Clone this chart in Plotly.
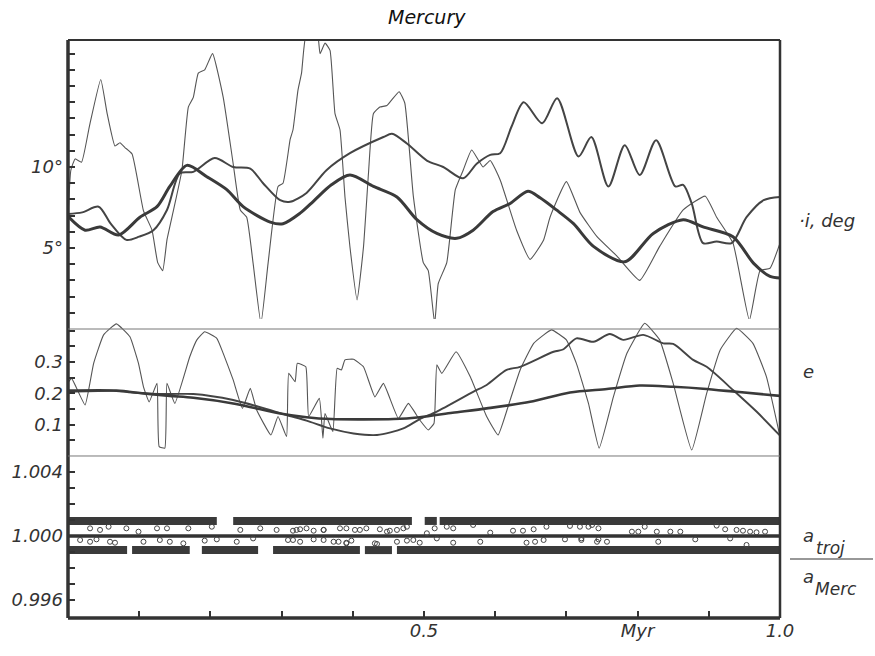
import plotly.graph_objects as go

# ---------------- time axis (Myr) ----------------
x_tickvals = [0.1, 0.2, 0.3, 0.4, 0.5, 0.6, 0.7, 0.8, 0.9, 1.0]
x_ticktext = ["", "", "", "", "0.5", "", "", "Myr", "", "1.0"]

# ---------------- inclination, deg ----------------
inc_thin_t = [0.000, 0.004, 0.010, 0.019, 0.030, 0.046, 0.055, 0.066, 0.073, 0.080, 0.090, 0.106,
              0.118, 0.126, 0.133, 0.139, 0.148, 0.160, 0.169, 0.176, 0.183, 0.192, 0.203, 0.218,
              0.232, 0.242, 0.251, 0.260, 0.271, 0.281, 0.295, 0.302, 0.312, 0.316, 0.323, 0.328,
              0.335, 0.350, 0.354, 0.361, 0.368, 0.375, 0.382, 0.389, 0.396, 0.406, 0.415, 0.422,
              0.429, 0.438, 0.448, 0.465, 0.473, 0.485, 0.499, 0.506, 0.515, 0.520, 0.532, 0.544,
              0.555, 0.567, 0.583, 0.593, 0.607, 0.630, 0.649, 0.668, 0.677, 0.700, 0.719, 0.743,
              0.771, 0.803, 0.831, 0.864, 0.895, 0.911, 0.934, 0.957, 0.972, 0.986, 1.000]
inc_thin = [6.9, 9.8, 10.5, 10.3, 12.5, 15.4, 13.3, 11.3, 11.5, 11.2, 10.8, 7.3,
            6.1, 4.1, 3.6, 5.5, 7.3, 9.8, 13.7, 14.3, 15.8, 16.0, 17.0, 14.3,
            10.2, 7.35, 6.9, 4.05, 0.35, 4.05, 8.8, 9.0, 11.7, 12.3, 14.75, 15.8,
            18.3, 18.3, 17.0, 17.65, 17.2, 13.3, 12.3, 8.15, 5.06, 1.8, 5.06, 9.6,
            13.3, 13.7, 13.8, 14.65, 13.95, 8.2, 4.1, 3.6, 0.35, 2.8, 4.1, 8.6,
            9.8, 11.05, 10.0, 10.4, 9.2, 6.1, 4.3, 5.5, 6.9, 9.1, 7.2, 5.7,
            4.5, 3.0, 5.1, 7.35, 8.2, 6.9, 5.3, 0.55, 3.6, 3.75, 5.3]

inc_med_t = [0.000, 0.020, 0.043, 0.060, 0.082, 0.100, 0.120, 0.139, 0.157, 0.176, 0.206, 0.232,
             0.256, 0.274, 0.298, 0.312, 0.335, 0.363, 0.396, 0.443, 0.455, 0.476, 0.504, 0.527,
             0.555, 0.574, 0.593, 0.607, 0.623, 0.640, 0.666, 0.687, 0.717, 0.735, 0.759, 0.782,
             0.803, 0.826, 0.853, 0.864, 0.876, 0.892, 0.911, 0.932, 0.953, 0.977, 1.000]
inc_med = [7.1, 7.2, 7.55, 6.5, 5.5, 5.7, 6.1, 7.35, 9.6, 9.7, 10.55, 10.0,
           9.9, 9.0, 7.95, 7.85, 8.4, 9.8, 10.85, 11.85, 12.05, 11.45, 10.4, 10.0,
           9.3, 10.2, 10.75, 10.85, 12.5, 14.0, 12.7, 14.25, 10.65, 11.85, 8.8, 11.35,
           9.5, 11.65, 8.8, 8.9, 7.75, 5.3, 5.4, 5.3, 6.9, 7.95, 8.15]

inc_thick_t = [0.000, 0.024, 0.045, 0.071, 0.101, 0.125, 0.143, 0.167, 0.195, 0.223, 0.246, 0.284,
               0.302, 0.326, 0.345, 0.370, 0.396, 0.429, 0.462, 0.490, 0.518, 0.546, 0.569, 0.597,
               0.621, 0.646, 0.663, 0.686, 0.710, 0.738, 0.782, 0.822, 0.864, 0.892, 0.934, 0.963,
               0.986, 1.000]
inc_thick = [6.95, 6.1, 6.3, 5.8, 6.9, 7.55, 8.8, 10.1, 9.4, 8.6, 7.55, 6.6,
             6.5, 7.15, 7.9, 8.9, 9.5, 8.8, 8.15, 6.75, 5.9, 5.6, 6.1, 7.25,
             7.75, 8.5, 8.1, 7.35, 6.5, 5.1, 4.15, 5.9, 6.75, 6.3, 5.7, 4.05,
             3.25, 3.15]
inc_tickvals = list(range(1, 18))
inc_ticktext = ["5°" if v == 5 else ("10°" if v == 10 else "") for v in inc_tickvals]

# ---------------- eccentricity ----------------
ecc_thin_t = [0.000, 0.005, 0.024, 0.036, 0.050, 0.068, 0.087, 0.099, 0.106, 0.114, 0.125, 0.128,
              0.136, 0.139, 0.150, 0.171, 0.181, 0.192, 0.209, 0.218, 0.232, 0.245, 0.256, 0.265,
              0.285, 0.295, 0.307, 0.310, 0.319, 0.322, 0.334, 0.338, 0.353, 0.358, 0.361, 0.372,
              0.378, 0.384, 0.389, 0.401, 0.415, 0.431, 0.443, 0.464, 0.478, 0.494, 0.506, 0.514,
              0.518, 0.525, 0.545, 0.565, 0.588, 0.604, 0.621, 0.635, 0.654, 0.679, 0.700, 0.714,
              0.731, 0.746, 0.766, 0.785, 0.810, 0.831, 0.850, 0.876, 0.897, 0.916, 0.939, 0.962,
              0.981, 1.000]
ecc_thin = [0.235, 0.248, 0.163, 0.296, 0.387, 0.422, 0.381, 0.296, 0.221, 0.173, 0.232, 0.030,
            0.025, 0.232, 0.168, 0.317, 0.371, 0.397, 0.376, 0.328, 0.243, 0.152, 0.216, 0.147,
            0.067, 0.126, 0.062, 0.264, 0.237, 0.296, 0.285, 0.126, 0.184, 0.057, 0.136, 0.078,
            0.280, 0.275, 0.307, 0.309, 0.285, 0.189, 0.232, 0.120, 0.168, 0.115, 0.083, 0.104,
            0.291, 0.264, 0.333, 0.253, 0.126, 0.067, 0.179, 0.275, 0.360, 0.403, 0.371, 0.296,
            0.168, 0.025, 0.189, 0.328, 0.424, 0.371, 0.232, 0.019, 0.200, 0.339, 0.408, 0.360,
            0.253, 0.062]

ecc_med_t = [0.000, 0.068, 0.106, 0.143, 0.176, 0.232, 0.270, 0.307, 0.335, 0.368, 0.401, 0.434,
             0.471, 0.494, 0.518, 0.569, 0.588, 0.616, 0.635, 0.682, 0.696, 0.714, 0.738, 0.761,
             0.780, 0.808, 0.836, 0.850, 0.878, 0.897, 0.934, 0.967, 1.000]
ecc_med = [0.205, 0.208, 0.200, 0.198, 0.198, 0.179, 0.156, 0.131, 0.113, 0.088, 0.072, 0.067,
           0.088, 0.118, 0.142, 0.205, 0.227, 0.275, 0.285, 0.333, 0.341, 0.376, 0.365, 0.390,
           0.371, 0.387, 0.360, 0.358, 0.307, 0.285, 0.211, 0.142, 0.065]

ecc_thick_t = [0.000, 0.068, 0.106, 0.143, 0.176, 0.232, 0.265, 0.298, 0.335, 0.370, 0.410, 0.457,
               0.494, 0.540, 0.588, 0.649, 0.705, 0.757, 0.803, 0.850, 0.892, 0.939, 1.000]
ecc_thick = [0.209, 0.209, 0.200, 0.192, 0.186, 0.168, 0.152, 0.136, 0.124, 0.118, 0.117, 0.118,
             0.124, 0.138, 0.152, 0.173, 0.203, 0.214, 0.225, 0.221, 0.215, 0.205, 0.192]
ecc_tickvals = [0.05, 0.10, 0.15, 0.20, 0.25, 0.30, 0.35, 0.40]
ecc_ticktext = ["", "0.1", "", "0.2", "", "0.3", "", ""]

# ---------------- a_troj / a_Merc ----------------
ratio_level_mid = 1.000
ratio_level_up = 1.00094
ratio_level_low = 0.99912
band_up_start = [0.000, 0.232, 0.501, 0.522]
band_up_end = [0.209, 0.483, 0.518, 1.000]
band_low_start = [0.000, 0.090, 0.188, 0.288, 0.417, 0.462]
band_low_end = [0.083, 0.171, 0.267, 0.410, 0.455, 1.000]

pts_t = [0.031, 0.045, 0.057, 0.082, 0.099, 0.125, 0.139, 0.169, 0.202, 0.242, 0.270, 0.293,
         0.316, 0.326, 0.345, 0.359, 0.391, 0.410, 0.438, 0.452, 0.471,
         0.017, 0.031, 0.040, 0.059, 0.066, 0.106, 0.129, 0.143, 0.162, 0.192, 0.209, 0.237,
         0.260, 0.316, 0.345, 0.373, 0.391, 0.431, 0.462, 0.485,
         0.321, 0.335, 0.359, 0.382, 0.403, 0.419, 0.448, 0.462, 0.476, 0.504, 0.515, 0.532,
         0.541, 0.569, 0.593, 0.625, 0.639, 0.654, 0.672, 0.705, 0.719, 0.736,
         0.309, 0.326, 0.359, 0.380, 0.391, 0.398, 0.434, 0.476, 0.494, 0.518, 0.541, 0.579,
         0.644, 0.656, 0.668, 0.698, 0.721, 0.743,
         0.731, 0.745, 0.792, 0.801, 0.810, 0.827, 0.846, 0.860, 0.911, 0.923, 0.939, 0.948,
         0.958, 0.967, 0.979,
         0.721, 0.745, 0.757, 0.829, 0.881, 0.930, 0.953]
pts_ratio = [1.00048, 1.00038, 1.00058, 1.00048, 1.00027, 1.00048, 1.00048, 1.00048, 1.00058, 1.00038,
             1.00048, 1.00038, 1.00033, 1.00042, 1.00033, 1.00038, 1.00048, 1.00038, 1.00042, 1.00033,
             1.00048,
             0.99975, 0.99964, 0.99979, 0.99964, 0.99958, 0.99964, 0.99975, 0.99964, 0.99954, 0.99971,
             0.99979, 0.99964, 0.99985, 0.99975, 0.99979, 0.99964, 0.99958, 0.99954, 0.99964, 0.99975,
             1.00038, 1.00048, 1.00038, 1.00048, 1.00038, 1.00048, 1.00027, 1.00038, 1.00058, 1.00017,
             1.00048, 1.00058, 1.00048, 1.00069, 1.00021, 1.00033, 1.00033, 1.00042, 1.00058, 1.00063,
             1.00058, 1.00069,
             0.99975, 0.99964, 0.99975, 0.99964, 0.99954, 0.99971, 0.99950, 0.99971, 0.99958, 0.99985,
             0.99958, 0.99964, 0.99958, 0.99964, 0.99975, 0.99979, 0.99975, 0.99964,
             1.00058, 1.00048, 1.00027, 1.00027, 1.00058, 1.00027, 1.00027, 1.00027, 1.00065, 1.00042,
             1.00038, 1.00033, 1.00027, 1.00023, 1.00027,
             0.99985, 0.99979, 0.99964, 0.99964, 0.99979, 0.99985, 0.99944]
ratio_tickvals = [0.996, 0.997, 0.998, 0.999, 1.000, 1.001, 1.002, 1.003, 1.004]
ratio_ticktext = ["0.996", "", "", "", "1.000", "", "", "", "1.004"]

# ---------------- styling ----------------
INK = "#333333"
FONT = "DejaVu Sans"
W, H = 875, 656
L, R, T, B = 68, 780, 40, 618


def px(xp):
    return (xp - L) / (R - L)


def py(yp):
    return (B - yp) / (B - T)


fig = go.Figure()

# inclination
fig.add_trace(go.Scatter(x=inc_thin_t, y=inc_thin, mode="lines", yaxis="y",
                         line=dict(color="#555555", width=1.1, shape="spline", smoothing=0.4)))
fig.add_trace(go.Scatter(x=inc_med_t, y=inc_med, mode="lines", yaxis="y",
                         line=dict(color="#444444", width=2.0, shape="spline", smoothing=0.8)))
fig.add_trace(go.Scatter(x=inc_thick_t, y=inc_thick, mode="lines", yaxis="y",
                         line=dict(color="#3a3a3a", width=3.0, shape="spline", smoothing=0.8)))
# eccentricity
fig.add_trace(go.Scatter(x=ecc_thin_t, y=ecc_thin, mode="lines", yaxis="y2",
                         line=dict(color="#555555", width=1.1, shape="spline", smoothing=0.35)))
fig.add_trace(go.Scatter(x=ecc_med_t, y=ecc_med, mode="lines", yaxis="y2",
                         line=dict(color="#444444", width=1.9, shape="spline", smoothing=0.8)))
fig.add_trace(go.Scatter(x=ecc_thick_t, y=ecc_thick, mode="lines", yaxis="y2",
                         line=dict(color="#3a3a3a", width=2.6, shape="spline", smoothing=0.8)))


# ratio bands
def band_xy(starts, ends, level):
    xs, ys = [], []
    for s, e in zip(starts, ends):
        xs += [s, e, None]
        ys += [level, level, None]
    return xs, ys


bx, by = band_xy(band_up_start, band_up_end, ratio_level_up)
fig.add_trace(go.Scatter(x=bx, y=by, mode="lines", yaxis="y3",
                         line=dict(color="#3a3a3a", width=8)))
bx, by = band_xy(band_low_start, band_low_end, ratio_level_low)
fig.add_trace(go.Scatter(x=bx, y=by, mode="lines", yaxis="y3",
                         line=dict(color="#3a3a3a", width=8)))
fig.add_trace(go.Scatter(x=[0, 1], y=[ratio_level_mid, ratio_level_mid], mode="lines", yaxis="y3",
                         line=dict(color="#333333", width=3.5)))
fig.add_trace(go.Scatter(x=pts_t, y=pts_ratio, mode="markers", yaxis="y3",
                         marker=dict(symbol="circle-open", size=5, color="#444444",
                                     line=dict(width=1, color="#444444"))))

tickfont = dict(family=FONT, size=18, color=INK, style="italic")
yax_common = dict(ticks="inside", ticklen=7, tickwidth=2, tickcolor=INK, showgrid=False,
                  zeroline=False, showline=False, tickfont=tickfont, anchor="x", fixedrange=True,
                  ticklabelstandoff=4)

fig.update_layout(
    width=W, height=H,
    margin=dict(l=L, r=W - R, t=T, b=H - B, pad=0),
    paper_bgcolor="white", plot_bgcolor="white",
    showlegend=False,
    xaxis=dict(domain=[0, 1], range=[0, 1], anchor="y3", tickvals=x_tickvals, ticktext=x_ticktext,
               ticks="inside", ticklen=7, tickwidth=2, tickcolor=INK, showgrid=False,
               zeroline=False, showline=False, tickfont=tickfont),
    yaxis=dict(domain=[0.5, 1.0], range=[0, 17.84], tickvals=inc_tickvals, ticktext=inc_ticktext,
               **yax_common),
    yaxis2=dict(domain=[0.2803, 0.5173], range=[0, 0.4377], tickvals=ecc_tickvals,
                ticktext=ecc_ticktext, **yax_common),
    yaxis3=dict(domain=[0, 0.2803], range=[0.994875, 1.005], tickvals=ratio_tickvals,
                ticktext=ratio_ticktext, **yax_common),
)

# frame and panel dividers
shapes = [
    dict(type="line", xref="paper", yref="paper", x0=0, x1=0, y0=0, y1=1, line=dict(color=INK, width=3.5)),
    dict(type="line", xref="paper", yref="paper", x0=0, x1=1, y0=0, y1=0, line=dict(color=INK, width=3.5)),
    dict(type="line", xref="paper", yref="paper", x0=0, x1=1, y0=1, y1=1, line=dict(color=INK, width=2)),
    dict(type="line", xref="paper", yref="paper", x0=1, x1=1, y0=0, y1=1, line=dict(color=INK, width=2.5)),
    dict(type="line", xref="paper", yref="paper", x0=0, x1=1, y0=0.5, y1=0.5, line=dict(color="#777777", width=1)),
    dict(type="line", xref="paper", yref="paper", x0=0, x1=1, y0=0.2803, y1=0.2803, line=dict(color="#777777", width=1)),
    dict(type="line", xref="paper", yref="paper", x0=px(790), x1=px(873), y0=py(559), y1=py(559),
         line=dict(color=INK, width=1.2)),
]
fig.update_layout(shapes=shapes)

lab = dict(family=FONT, size=18, color=INK, style="italic")
sub = dict(family=FONT, size=17, color=INK, style="italic")
fig.add_annotation(text="Mercury", xref="paper", yref="paper", x=px(427), y=py(17), showarrow=False,
                   font=dict(family=FONT, size=19, color="#111111", style="italic"),
                   xanchor="center", yanchor="middle")
fig.add_annotation(text="·i, deg", xref="paper", yref="paper", x=px(797), y=py(220), showarrow=False,
                   font=lab, xanchor="left", yanchor="middle")
fig.add_annotation(text="e", xref="paper", yref="paper", x=px(808), y=py(372), showarrow=False,
                   font=lab, xanchor="center", yanchor="middle")
fig.add_annotation(text="a", xref="paper", yref="paper", x=px(808), y=py(535), showarrow=False,
                   font=lab, xanchor="center", yanchor="middle")
fig.add_annotation(text="troj", xref="paper", yref="paper", x=px(814), y=py(548), showarrow=False,
                   font=sub, xanchor="left", yanchor="middle")
fig.add_annotation(text="a", xref="paper", yref="paper", x=px(808), y=py(576), showarrow=False,
                   font=lab, xanchor="center", yanchor="middle")
fig.add_annotation(text="Merc", xref="paper", yref="paper", x=px(813), y=py(589), showarrow=False,
                   font=sub, xanchor="left", yanchor="middle")

fig.write_html("out.html")
